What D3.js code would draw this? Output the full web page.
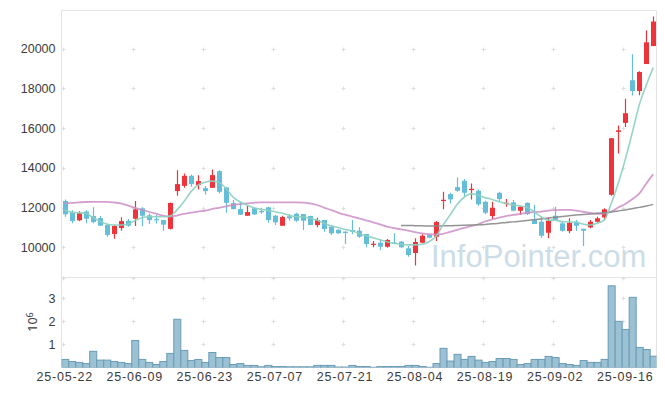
<!DOCTYPE html>
<meta charset="utf-8">
<style>
body { margin: 0; background: #fff; }
svg { display: block; font-family: "Noto Sans", sans-serif; }
.axis text { fill: #3c3c3c; font-size: 12.5px; }
.axis.x text { letter-spacing: 0.8px; }
.watermark { font-family: "Liberation Sans", Arial, sans-serif; font-size: 31px; fill: #cddde7; }
</style>
<body>
<script src="https://d3js.org/d3.v7.min.js"></script>
<script>

// trading days
var dates = ["25-05-22","25-05-23","25-05-26","25-05-27","25-05-28","25-05-29","25-05-30",
  "25-06-02","25-06-04","25-06-05","25-06-09","25-06-10","25-06-11","25-06-12","25-06-13",
  "25-06-16","25-06-17","25-06-18","25-06-19","25-06-20","25-06-23","25-06-24","25-06-25","25-06-26","25-06-27","25-06-30",
  "25-07-01","25-07-02","25-07-03","25-07-04","25-07-07","25-07-08","25-07-09","25-07-10","25-07-11",
  "25-07-14","25-07-15","25-07-16","25-07-17","25-07-18","25-07-21","25-07-22","25-07-23","25-07-24","25-07-25",
  "25-07-28","25-07-29","25-07-30","25-07-31","25-08-01","25-08-04","25-08-05","25-08-06","25-08-07","25-08-08",
  "25-08-11","25-08-12","25-08-13","25-08-14","25-08-18","25-08-19","25-08-20","25-08-21","25-08-22",
  "25-08-25","25-08-26","25-08-27","25-08-28","25-08-29","25-09-01","25-09-02","25-09-03","25-09-04","25-09-05",
  "25-09-08","25-09-09","25-09-10","25-09-11","25-09-12","25-09-15","25-09-16","25-09-17","25-09-18","25-09-19","25-09-22"];

var opens = [12330,11760,11360,11800,11570,11470,11120,10670,10970,11340,
  11440,11960,11610,11420,11370,10930,12830,13095,13598,13131,
  12980,12995,13834,13015,12226,11925,11588,11960,11824,12010,
  11588,11085,11558,11688,11673,11573,11120,11372,11035,10884,
  10784,10869,10834,10668,10131,10231,10030,10231,10281,9950,
  9714,10231,10618,10533,12342,12678,13030,13347,12879,12844,
  12291,11573,12744,12176,12261,11839,12241,11372,11286,10734,
  11588,11206,10819,11286,10935,11005,11286,11508,12643,15810,
  16262,18408,17869,19226,20131];

var highs = [12410,11870,11820,11870,12010,11570,11170,11120,11510,11420,
  12330,12010,11700,11620,11370,12260,13884,13719,13668,13633,
  13080,13919,13884,13015,12377,12261,12075,11990,11990,12040,
  11623,11588,11658,11739,11673,11588,11487,11372,11121,10900,
  10804,11372,11005,10668,10317,10367,10417,10704,10317,10065,
  10452,10653,10668,11322,12794,12744,13518,13432,13216,12915,
  12342,12291,12794,12427,12377,12075,12261,12141,11538,11508,
  12040,11337,11457,11372,10935,11372,11538,11960,15500,16130,
  17483,19713,18860,20919,21623];

var lows = [11540,11210,11310,11210,11210,11080,10530,10430,10830,11040,
  11070,11070,11170,11200,10830,10900,12593,12995,13045,12915,
  12663,12980,12714,11739,11900,11623,11588,11623,11688,11236,
  11121,11085,11337,11286,10869,11121,11005,10784,10618,10680,
  10166,10653,10482,10000,10000,9864,9980,10151,9980,9530,
  9080,10201,10452,10317,11910,12211,12794,12578,12412,12090,
  11658,11422,12291,12040,11809,11623,11623,11171,10482,10452,
  11372,10784,10704,10819,10065,10955,11236,11372,12600,14723,
  16060,17638,17653,19226,20131];

var closes = [11660,11320,11710,11440,11270,11090,10620,11070,11320,11090,
  11910,11590,11370,11390,11140,12230,13181,13598,13181,13332,
  12829,13633,12794,12241,11925,11638,11774,11658,11774,11372,
  11256,11523,11457,11337,11337,11120,11372,10920,10704,10704,
  10734,10784,10533,10166,10181,10030,10367,10166,10000,9613,
  10266,10583,10482,11271,12392,12412,12844,12744,12945,12161,
  11739,11990,12427,12241,11839,12040,11673,11171,10583,11337,
  11372,10834,11236,11085,10834,11286,11457,11910,15492,15890,
  16749,17869,18826,20316,21366];

// volume, millions of shares
var volume = [0.35,0.26,0.22,0.17,0.70,0.32,0.32,0.26,0.22,0.17,
  1.17,0.35,0.22,0.13,0.26,0.61,2.09,0.74,0.30,0.35,
  0.22,0.65,0.43,0.43,0.13,0.17,0.09,0.09,0.03,0.09,
  0.04,0.04,0.03,0.03,0.03,0.03,0.09,0.09,0.09,0.02,
  0.02,0.09,0.04,0.04,0.01,0.04,0.04,0.04,0.04,0.09,
  0.09,0.04,0.01,0.17,0.83,0.28,0.57,0.35,0.48,0.32,
  0.22,0.26,0.39,0.39,0.35,0.13,0.17,0.35,0.35,0.48,
  0.43,0.17,0.13,0.09,0.30,0.22,0.22,0.35,3.54,2.00,
  1.65,3.04,0.87,0.78,0.49];

// moving averages as drawn
var ma5 = [11880,11760,11740,11710,11510,11320,11170,11120,11120,11160,
  11340,11490,11540,11540,11540,11570,11870,12290,12790,13130,
  13270,13330,13270,12970,12540,12290,12130,11990,11910,11870,
  11790,11710,11620,11540,11540,11460,11370,11210,11090,11000,
  10900,10830,10700,10580,10480,10380,10280,10200,10150,10120,
  10120,10150,10280,10560,11120,11620,12150,12520,12690,12630,
  12500,12410,12290,12210,12130,12080,12010,11790,11540,11370,
  11370,11290,11290,11260,11170,11120,11210,11370,12190,13210,
  14400,15750,17150,18150,19050];

var ma20 = [12210,12240,12260,12280,12290,12290,12290,12260,12210,12110,
  11990,11890,11790,11690,11590,11540,11600,11680,11740,11800,
  11840,11920,11990,12060,12130,12170,12210,12240,12260,12260,
  12260,12260,12260,12260,12250,12210,12130,12000,11880,11750,
  11640,11550,11460,11360,11260,11150,11040,10970,10900,10840,
  10760,10700,10660,10640,10680,10780,10880,10980,11060,11160,
  11300,11400,11500,11570,11630,11680,11730,11770,11800,11850,
  11870,11880,11880,11850,11790,11730,11690,11700,11800,12000,
  12180,12420,12700,13200,13680];

var ma60 = [null,null,null,null,null,null,null,null,null,null,
  null,null,null,null,null,null,null,null,null,null,
  null,null,null,null,null,null,null,null,null,null,
  null,null,null,null,null,null,null,null,null,null,
  null,null,null,null,null,null,null,null,11100,11100,
  11090,11080,11070,11070,11080,11090,11100,11110,11120,11130,
  11150,11180,11210,11250,11280,11310,11350,11390,11430,11470,
  11510,11550,11590,11620,11650,11680,11710,11740,11780,11830,
  11880,11940,12010,12080,12160];

var priceTicks = [10000, 12000, 14000, 16000, 18000, 20000];
var volTicks = [1, 2, 3];
var dateTicks = ["25-05-22","25-06-09","25-06-23","25-07-07","25-07-21","25-08-04","25-08-19","25-09-02","25-09-16"];

var W = 665, H = 396;
var pLeft = 61.5, pRight = 656.5, pTop = 10.5, pMid = 277.5, pBottom = 367.5;

var svg = d3.select("body").append("svg")
    .attr("width", W)
    .attr("height", H);

var x = d3.scaleBand().domain(dates).range([61.2, 656.7]).padding(0);
var cx = function(i) { return x(dates[i]) + x.bandwidth() / 2; };
var y = d3.scaleLinear().domain([8480, 21920]).range([pMid, pTop]);
var yv = d3.scaleLinear().domain([0, 3.9]).range([pBottom, pMid]);

svg.append("clipPath").attr("id", "clipP")
  .append("rect").attr("x", pLeft).attr("y", pTop).attr("width", pRight - pLeft).attr("height", pMid - pTop);
svg.append("clipPath").attr("id", "clipV")
  .append("rect").attr("x", pLeft).attr("y", pMid).attr("width", pRight - pLeft).attr("height", pBottom - pMid);

// frame
svg.append("path")
    .attr("d", "M" + pLeft + "," + pBottom + "V" + pTop + "H" + pRight + "V" + pBottom + "H" + pLeft +
               "M" + pLeft + "," + pMid + "H" + pRight)
    .attr("fill", "none")
    .attr("stroke", "#e4e4e4");

// grid crosses
var gridY = priceTicks.map(y).concat(volTicks.map(yv)).concat([pMid]);
var crosses = [];
dateTicks.forEach(function(d) {
  gridY.forEach(function(gy) { crosses.push([Math.round(x(d) + x.bandwidth() / 2) - 1.5, Math.round(gy) + 0.5]); });
});
svg.append("g").selectAll("path")
    .data(crosses)
  .enter().append("path")
    .attr("d", function(c) { return "M" + (c[0] - 2) + "," + c[1] + "h4M" + c[0] + "," + (c[1] - 2) + "v4"; })
    .attr("stroke", "#dedede")
    .attr("stroke-width", 1);

// watermark
svg.append("text")
    .attr("class", "watermark")
    .attr("x", 431)
    .attr("y", 266.5)
    .text("InfoPointer.com");

// candles
var idx = d3.range(dates.length);
var gc = svg.append("g").attr("clip-path", "url(#clipP)");
var col = function(i) { return closes[i] >= opens[i] ? "#ee333b" : "#66bdd7"; };

gc.selectAll("line.wick")
    .data(idx)
  .enter().append("line")
    .attr("class", "wick")
    .attr("x1", function(i) { return Math.round(cx(i)) + 0.5; })
    .attr("x2", function(i) { return Math.round(cx(i)) + 0.5; })
    .attr("y1", function(i) { return y(highs[i]); })
    .attr("y2", function(i) { return y(lows[i]); })
    .attr("stroke", col)
    .attr("stroke-width", 1.2);

gc.selectAll("rect.body")
    .data(idx)
  .enter().append("rect")
    .attr("class", "body")
    .attr("x", function(i) { return Math.round(cx(i)) - 2; })
    .attr("width", 5)
    .attr("y", function(i) { return y(Math.max(opens[i], closes[i])); })
    .attr("height", function(i) { return Math.max(1.2, Math.abs(y(opens[i]) - y(closes[i]))); })
    .attr("fill", col);

// moving averages
var line = function(arr) {
  return d3.line()
    .defined(function(i) { return arr[i] != null; })
    .x(cx)
    .y(function(i) { return y(arr[i]); })
    .curve(d3.curveMonotoneX)(idx);
};
gc.append("path").attr("d", line(ma20)).attr("fill", "none")
    .attr("stroke", "#cc8ec7").attr("stroke-width", 1.8).attr("stroke-opacity", 0.85);
gc.append("path").attr("d", line(ma60)).attr("fill", "none")
    .attr("stroke", "#888").attr("stroke-width", 1.5).attr("stroke-opacity", 0.9);
gc.append("path").attr("d", line(ma5)).attr("fill", "none")
    .attr("stroke", "#8ccfc0").attr("stroke-width", 1.6).attr("stroke-opacity", 0.9);

// volume bars
svg.append("g").attr("clip-path", "url(#clipV)")
  .selectAll("rect")
    .data(idx)
  .enter().append("rect")
    .attr("x", function(i) { return x(dates[i]) + 0.5; })
    .attr("width", x.bandwidth())
    .attr("y", function(i) { return yv(volume[i]); })
    .attr("height", function(i) { return yv(0) - yv(volume[i]); })
    .attr("fill", "#9bc1d3")
    .attr("stroke", "#6a9bb7")
    .attr("stroke-width", 1);

// axes
svg.append("g")
    .attr("class", "axis")
    .attr("transform", "translate(" + pLeft + ",0)")
    .call(d3.axisLeft(y).tickValues(priceTicks).tickFormat(d3.format("d")).tickSize(0).tickPadding(6))
    .call(function(g) { g.select(".domain").remove(); });

svg.append("g")
    .attr("class", "axis")
    .attr("transform", "translate(" + pLeft + ",0)")
    .call(d3.axisLeft(yv).tickValues(volTicks).tickFormat(d3.format("d")).tickSize(0).tickPadding(6))
    .call(function(g) { g.select(".domain").remove(); });

svg.append("g")
    .attr("class", "axis x")
    .attr("transform", "translate(0," + pBottom + ")")
    .call(d3.axisBottom(x).tickValues(dateTicks).tickSize(0).tickPadding(4.5))
    .call(function(g) { g.select(".domain").remove(); });

svg.selectAll(".axis text").attr("fill", "#3c3c3c").style("font-size", "12.5px");

// volume unit
var unit = svg.append("text")
    .attr("transform", "translate(37,322) rotate(-90)")
    .attr("text-anchor", "middle")
    .attr("fill", "#3c3c3c")
    .style("font-size", "12.5px");
unit.append("tspan").text("10");
unit.append("tspan").attr("dy", "-0.45em").style("font-size", "9px").text("6");

</script>
</body>
